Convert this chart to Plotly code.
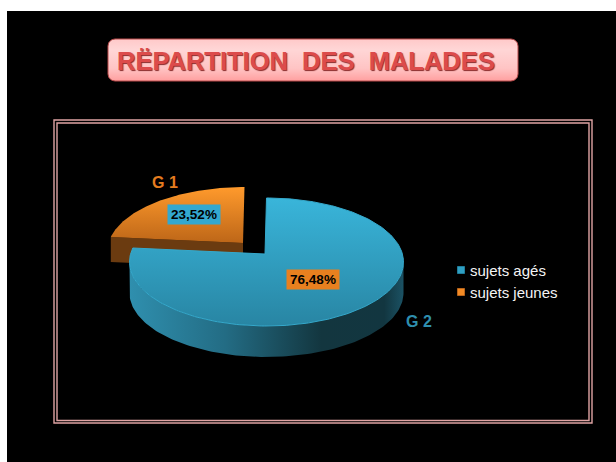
import numpy as np
import plotly.graph_objects as go

categories = ["sujets agés", "sujets jeunes"]
values = [76.48, 23.52]
value_labels = ["76,48%", "23,52%"]
group_labels = ["G 2", "G 1"]
title_text = "RËPARTITION\u00a0\u00a0DES\u00a0\u00a0MALADES"

BLUE_TOP = "#39b5da"
BLUE_BOTTOM = "#2885a3"
ORANGE_TOP = "#ff9a2c"
ORANGE_BOTTOM = "#bd6618"

W, H = 616, 462
CX, CY, RX, RY = 266.5, 262, 137, 64
APEX = (265, 254)
DEPTH_BLUE, DEPTH_ORANGE = 31, 25
EXPLODE = (-22, -11)
WARP = 1.0265


def arc(t0, t1, dx=0, dy=0, n=120):
    t = np.radians(np.linspace(t0, t1, n))
    return CX + RX * np.sin(t) + dx, CY - RY * np.cos(t) + dy


blue_end = values[0] / sum(values) * 360 * WARP
fig = go.Figure()

# background and frame
fig.add_shape(type="rect", x0=7, y0=11, x1=W, y1=H, fillcolor="black", line_width=0, layer="below")
for (a, b, c, d) in [(54, 120, 592, 423), (57, 123, 589, 420.5)]:
    fig.add_shape(type="rect", x0=a, y0=b, x1=c, y1=d, line=dict(color="#e0a4a4", width=1.4), layer="below")

# title plate
bx0, by0, bx1, by1, r = 108, 39, 518, 81, 7
q = np.radians(np.linspace(0, 90, 12))
px = np.concatenate([bx1 - r + r * np.sin(q), bx1 - r + r * np.cos(q), bx0 + r - r * np.sin(q), bx0 + r - r * np.cos(q)])
py = np.concatenate([by0 + r - r * np.cos(q), by1 - r + r * np.sin(q), by1 - r + r * np.cos(q), by0 + r - r * np.sin(q)])
fig.add_trace(go.Scatter(
    x=np.append(px, px[0]), y=np.append(py, py[0]), mode="lines", fill="toself",
    line=dict(color="#b94a4a", width=1),
    fillgradient=dict(type="vertical", colorscale=[[0, "#ff9f9f"], [0.3, "#ffc4c4"], [0.75, "#ffd6d6"], [1, "#ffc9c9"]]),
    hoverinfo="skip", showlegend=False))

# orange slice: wall then top face
ox, oy = arc(blue_end, 360, *EXPLODE)
ax, ay = APEX[0] + EXPLODE[0], APEX[1] + EXPLODE[1]
fig.add_trace(go.Scatter(
    x=[ox[0], ax, ax, ox[0], ox[0]],
    y=[oy[0], ay, ay + DEPTH_ORANGE, oy[0] + DEPTH_ORANGE, oy[0]],
    mode="lines", fill="toself", fillcolor="#6b3b10", line=dict(width=0), hoverinfo="skip", showlegend=False))
fig.add_trace(go.Scatter(
    x=np.concatenate([[ax], ox, [ax]]), y=np.concatenate([[ay], oy, [ay]]),
    mode="lines", fill="toself", line=dict(width=0),
    fillgradient=dict(type="vertical", colorscale=[[0, ORANGE_BOTTOM], [1, ORANGE_TOP]]),
    hoverinfo="skip", showlegend=False))

# blue slice: wall then top face
wx, wy = arc(90, 270)
fig.add_trace(go.Scatter(
    x=np.concatenate([wx, wx[::-1], wx[:1]]),
    y=np.concatenate([wy, wy[::-1] + DEPTH_BLUE, wy[:1]]),
    mode="lines", fill="toself", line=dict(width=0),
    fillgradient=dict(type="horizontal", colorscale=[[0, "#2f8fae"], [0.35, "#236c84"], [0.7, "#13363f"], [0.93, "#123640"], [1, "#1b5264"]]),
    hoverinfo="skip", showlegend=False))
bxs, bys = arc(0, blue_end, n=240)
fig.add_trace(go.Scatter(
    x=np.concatenate([[APEX[0]], bxs, [APEX[0]]]), y=np.concatenate([[APEX[1]], bys, [APEX[1]]]),
    mode="lines", fill="toself", line=dict(width=1, color="#35a9cc"),
    fillgradient=dict(type="vertical", colorscale=[[0, BLUE_BOTTOM], [1, BLUE_TOP]]),
    hoverinfo="skip", showlegend=False))

# legend-style entries
legend_y = [270, 292]
for color, edge, ly in zip(["#2f9fc2", "#f28a24"], ["#1f7d9b", "#b8641a"], legend_y):
    fig.add_trace(go.Scatter(
        x=[461], y=[ly], mode="markers",
        marker=dict(symbol="square", size=7, color=color, line=dict(color=edge, width=1)),
        hoverinfo="skip", showlegend=False))

annotations = [
    dict(x=313, y=279, text=f"<b>{value_labels[0]}</b>", bgcolor="#e8801f", width=52, height=19,
         font=dict(family="Liberation Sans", size=13.5, color="black")),
    dict(x=194, y=214, text=f"<b>{value_labels[1]}</b>", bgcolor="#33a8cf", width=52, height=19,
         font=dict(family="Liberation Sans", size=13.5, color="black")),
    dict(x=419, y=321, text=f"<b>{group_labels[0]}</b>", font=dict(family="Liberation Sans", size=16, color="#2f8fae")),
    dict(x=165, y=182, text=f"<b>{group_labels[1]}</b>", font=dict(family="Liberation Sans", size=16, color="#e57c1f")),
    dict(x=305.5, y=60.5, text=f"<b>{title_text}</b>",
         font=dict(family="Liberation Sans", size=25.5, color="#dc4b4b", shadow="1px 1px 1px #8a2a2a")),
]
for name, ly in zip(categories, legend_y):
    annotations.append(dict(x=468.5, y=ly, text=name, xanchor="left",
                            font=dict(family="Liberation Sans", size=15, color="#f4f4f4")))
for a in annotations:
    a.update(xref="x", yref="y", showarrow=False, borderpad=0)

fig.update_layout(
    width=W, height=H, margin=dict(l=0, r=0, t=0, b=0),
    paper_bgcolor="white", plot_bgcolor="rgba(0,0,0,0)", showlegend=False,
    xaxis=dict(range=[0, W], visible=False, fixedrange=True),
    yaxis=dict(range=[H, 0], visible=False, fixedrange=True),
    annotations=annotations,
)
fig.write_html("out.html", config={"displayModeBar": False},
               post_script="document.body.style.margin='0';document.documentElement.style.overflow='hidden';")
